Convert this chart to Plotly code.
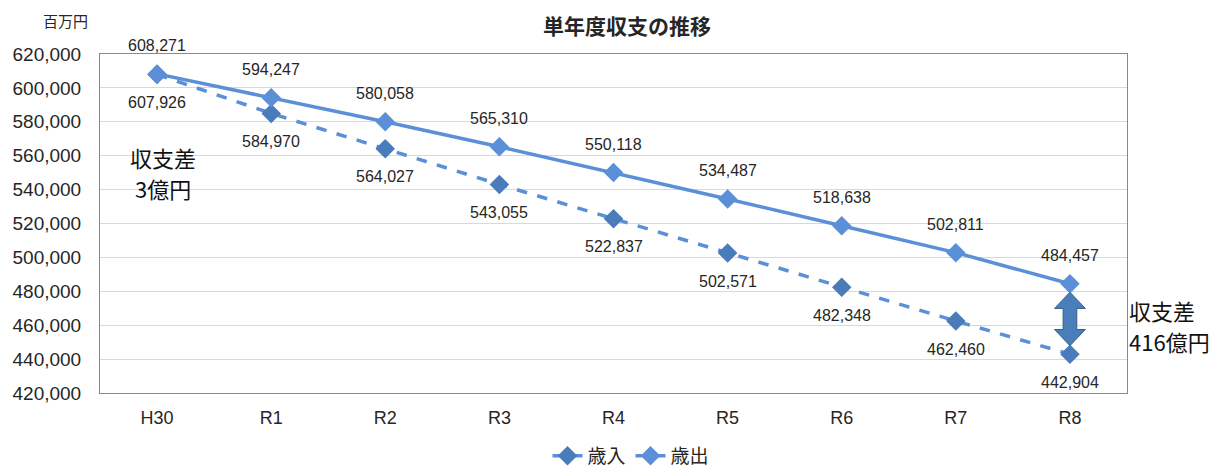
import plotly.graph_objects as go

categories = ["H30", "R1", "R2", "R3", "R4", "R5", "R6", "R7", "R8"]
revenue = [607926, 584970, 564027, 543055, 522837, 502571, 482348, 462460, 442904]   # 歳入
expenditure = [608271, 594247, 580058, 565310, 550118, 534487, 518638, 502811, 484457]  # 歳出
y_ticks = [420000, 440000, 460000, 480000, 500000, 520000, 540000, 560000, 580000, 600000, 620000]

FONT = "Liberation Sans, Arial, Noto Sans CJK JP, sans-serif"
JP = "Noto Sans CJK JP"
C_EXP = "#5B8FD7"
C_REV_MK = "#4A7BBB"
TXT = "#262626"

# page has an 8px body margin; figure coordinates = page coordinates - 8
OFF = 8
W, H = 1223 - OFF, 471 - OFF
L, T = 100 - OFF, 54 - OFF
R = W - (1127 - OFF)
B = H - (393 - OFF)
PW, PH = W - L - R, H - T - B


def px(xp):
    return (xp - OFF - L) / PW


def py(yp):
    return 1 - (yp - OFF - T) / PH


fig = go.Figure()
fig.add_trace(go.Scatter(
    x=categories, y=revenue, name="歳入", mode="lines+markers",
    line=dict(color=C_EXP, width=3.5, dash="dash"),
    marker=dict(symbol="diamond", size=15, color=C_REV_MK),
))
fig.add_trace(go.Scatter(
    x=categories, y=expenditure, name="歳出", mode="lines+markers",
    line=dict(color=C_EXP, width=3.5),
    marker=dict(symbol="diamond", size=15, color=C_EXP),
))

anns = []
for c, v in zip(categories, expenditure):
    anns.append(dict(x=c, y=v, text=f"{v:,}", showarrow=False, yshift=28,
                     xanchor="center", yanchor="middle",
                     font=dict(size=16, color=TXT, family=FONT)))
for c, v in zip(categories, revenue):
    anns.append(dict(x=c, y=v, text=f"{v:,}", showarrow=False, yshift=-28,
                     xanchor="center", yanchor="middle",
                     font=dict(size=16, color=TXT, family=FONT)))

# difference annotations
diff0 = (expenditure[0] - revenue[0]) / 100
diffN = (expenditure[-1] - revenue[-1]) / 100
lab_font = dict(size=22, color="#111111", family=JP)
anns.append(dict(x=px(163), xref="paper", y=py(157), yref="paper", xanchor="center", yanchor="middle",
                 text="収支差", showarrow=False, font=lab_font))
anns.append(dict(x=px(163), xref="paper", y=py(188), yref="paper", xanchor="center", yanchor="middle",
                 text=f"{round(diff0)}億円", showarrow=False, font=lab_font))
anns.append(dict(x=1.0, xref="paper", xanchor="left", yanchor="middle", y=py(310), yref="paper",
                 text="収支差", showarrow=False, font=lab_font))
anns.append(dict(x=1.0, xref="paper", xanchor="left", yanchor="middle", y=py(341), yref="paper",
                 text=f"{round(diffN)}億円", showarrow=False, font=lab_font))
anns.append(dict(x=px(65), xref="paper", y=1 + T / PH, yref="paper", xanchor="center", yanchor="top",
                 text="百万円", showarrow=False,
                 font=dict(size=15, color=TXT, family=JP)))
anns.append(dict(x=px(627), xref="paper", y=1 + T / PH, yref="paper", xanchor="center",
                 yanchor="top", text="<b>単年度収支の推移</b>",
                 showarrow=False, font=dict(size=21, color=TXT, family=JP)))

# double-headed block arrow at the last category
xi = len(categories) - 1
top = expenditure[-1]
bot = revenue[-1]
span = top - bot
pad = span * 0.12
head = span * 0.23
hw, sw = 0.135, 0.06
y1, y2 = top - pad, bot + pad
path = (f"M {xi},{y1} L {xi+hw},{y1-head} L {xi+sw},{y1-head} L {xi+sw},{y2+head} "
        f"L {xi+hw},{y2+head} L {xi},{y2} L {xi-hw},{y2+head} L {xi-sw},{y2+head} "
        f"L {xi-sw},{y1-head} L {xi-hw},{y1-head} Z")
shapes = [dict(type="path", xref="x", yref="y", path=path,
               fillcolor="#4A7EBB", line=dict(color="#385D8A", width=1))]

fig.update_layout(
    width=W, height=H,
    margin=dict(l=L, r=R, t=T, b=B, autoexpand=False),
    paper_bgcolor="white", plot_bgcolor="white",
    font=dict(family=FONT, color=TXT),
    annotations=anns, shapes=shapes,
    showlegend=True,
    legend=dict(orientation="h", x=px(631), xanchor="center",
                y=py(456), yanchor="middle",
                font=dict(size=19, family=JP, color=TXT)),
    xaxis=dict(type="category", range=[-0.5, len(categories) - 0.5],
               showgrid=False, showline=True, linecolor="#898989", linewidth=1,
               mirror=True, ticks="", ticklabelstandoff=8,
               tickfont=dict(size=18, family=FONT, color=TXT)),
    yaxis=dict(range=[420000, 620000], tickvals=y_ticks, tickformat=",d",
               showgrid=True, gridcolor="#D9D9D9", gridwidth=1,
               showline=True, linecolor="#898989", linewidth=1, mirror=True,
               zeroline=False, ticks="", ticklabelstandoff=14,
               tickfont=dict(size=19, family=FONT, color=TXT)),
)

fig.write_html("out.html")
